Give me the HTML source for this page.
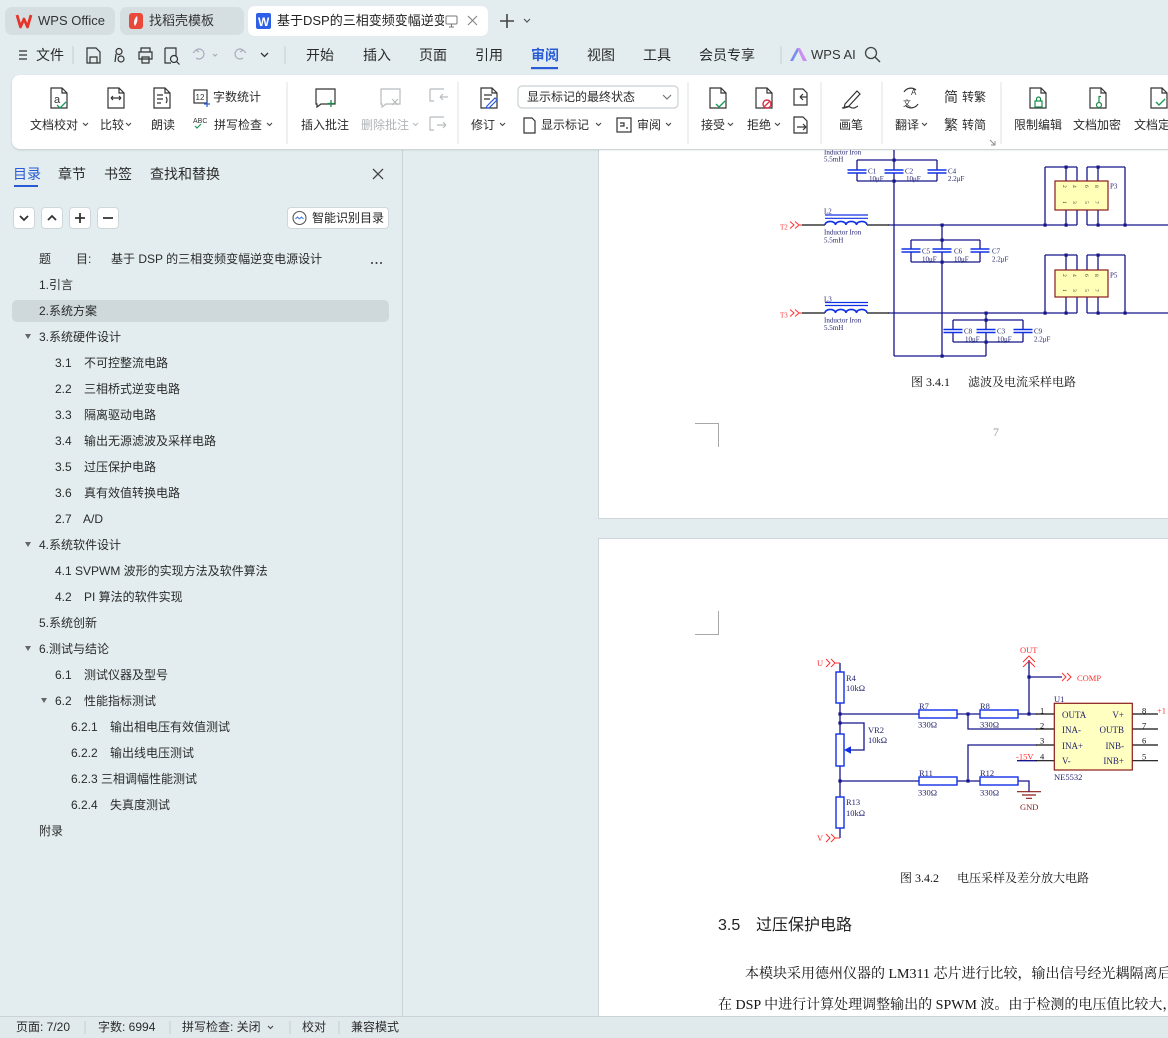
<!DOCTYPE html>
<html lang="zh"><head><meta charset="utf-8"><title>WPS</title>
<style>
*{margin:0;padding:0;box-sizing:border-box}
html,body{width:1168px;height:1038px;overflow:hidden}
body{position:relative;background:#e3edef;font-family:"Liberation Sans","Noto Sans CJK SC",sans-serif;color:#2b2b2b}
.a{position:absolute;white-space:nowrap}
.f12{font-size:12px;line-height:14px}
.f13{font-size:13px;line-height:16px}
.f14{font-size:14px;line-height:16px}
.g{color:#b0b4b7}
.s{font-family:"Liberation Serif","Noto Serif CJK SC",serif;color:#111}
.btn{position:absolute;top:207px;width:22px;height:22px;background:#fff;border:1px solid #cfd7da;border-radius:4px}
</style></head><body>

<!-- document area -->
<div class="a" style="left:598px;top:150px;width:580px;height:369px;background:#fff;border-left:1px solid #cfd5d8;border-bottom:1px solid #cfd5d8"></div>
<div class="a" style="left:598px;top:538px;width:580px;height:480px;background:#fff;border-left:1px solid #cfd5d8;border-top:1px solid #cfd5d8"></div>

<svg class="a" style="left:0;top:0" width="1168" height="1038" viewBox="0 0 1168 1038" font-family="Liberation Serif, serif">
 <path d="M695 423.5H718.5V447M718.5 611V634.5H695" stroke="#a8a8a8" stroke-width="1" fill="none"/>
 <!-- ===== circuit 1 ===== -->
 <g stroke="#16168c" stroke-width="1.3" fill="none">
  <path d="M894 150V170M894 173V356M857 160H937M857 181H937M857 160V170M857 173V181M937 160V170M937 173V181"/>
  <path d="M888 225H1077M1087 225H1168M942 225V249M942 252V356M911 240H980M911 262H980M911 240V249M911 252V262M980 240V249M980 252V262"/>
  <path d="M888 313H1077M1087 313H1168M986 313V329.5M986 332.5V356M953 320H1023M953 342H1023M953 320V329.5M953 332.5V342M1023 320V329.5M1023 332.5V342M894 356H986"/>
  <path d="M1045 167H1077M1087 167H1125M1045 167V225M1125 167V225M1066 167V181M1077 167V181M1087 167V181M1098 167V181M1066 210V225M1077 210V225M1087 210V225M1098 210V225"/>
  <path d="M1045 255H1077M1087 255H1125M1045 255V313M1125 255V313M1066 255V270M1077 255V270M1087 255V270M1098 255V270M1066 297V313M1077 297V313M1087 297V313M1098 297V313"/>
 </g>
 <path d="M802 225H825M867 225H889M802 313H825M867 313H889" stroke="#111" stroke-width="1.2"/>
 <g fill="#16168c">
  <rect x="892.5" y="158.5" width="3.2" height="3.2"/><rect x="892.5" y="179.5" width="3.2" height="3.2"/>
  <rect x="940.5" y="223.5" width="3.2" height="3.2"/><rect x="940.5" y="238.5" width="3.2" height="3.2"/>
  <rect x="940.5" y="260.5" width="3.2" height="3.2"/><rect x="940.5" y="354.5" width="3.2" height="3.2"/>
  <rect x="984.5" y="311.5" width="3.2" height="3.2"/><rect x="984.5" y="318.5" width="3.2" height="3.2"/>
  <rect x="984.5" y="340.5" width="3.2" height="3.2"/>
  <rect x="1064.5" y="165.5" width="3.2" height="3.2"/><rect x="1096.5" y="165.5" width="3.2" height="3.2"/>
  <rect x="1043.5" y="223.5" width="3.2" height="3.2"/><rect x="1064.5" y="223.5" width="3.2" height="3.2"/>
  <rect x="1096.5" y="223.5" width="3.2" height="3.2"/><rect x="1123.5" y="223.5" width="3.2" height="3.2"/>
  <rect x="1064.5" y="253.5" width="3.2" height="3.2"/><rect x="1096.5" y="253.5" width="3.2" height="3.2"/>
  <rect x="1043.5" y="311.5" width="3.2" height="3.2"/><rect x="1064.5" y="311.5" width="3.2" height="3.2"/>
  <rect x="1096.5" y="311.5" width="3.2" height="3.2"/><rect x="1123.5" y="311.5" width="3.2" height="3.2"/>
 </g>
 <g stroke="#1030e6" stroke-width="1.6" fill="none">
  <path d="M847.5 170H866.5M847.5 173H866.5M884.5 170H903.5M884.5 173H903.5M927.5 170H946.5M927.5 173H946.5"/>
  <path d="M901.5 249H920.5M901.5 252H920.5M932.5 249H951.5M932.5 252H951.5M970.5 249H989.5M970.5 252H989.5"/>
  <path d="M943.5 329.5H962.5M943.5 332.5H962.5M976.5 329.5H995.5M976.5 332.5H995.5M1013.5 329.5H1032.5M1013.5 332.5H1032.5"/>
  <path d="M825 225a5.25 3.6 0 0 1 10.5 0a5.25 3.6 0 0 1 10.5 0a5.25 3.6 0 0 1 10.5 0a5.25 3.6 0 0 1 10.5 0"/>
  <path d="M825 313a5.25 3.6 0 0 1 10.5 0a5.25 3.6 0 0 1 10.5 0a5.25 3.6 0 0 1 10.5 0a5.25 3.6 0 0 1 10.5 0"/>
  <path d="M825 215H868M825 218.3H868M825 302.5H868M825 305.5H868" stroke-width="1.2"/>
 </g>
 <g stroke="#ff3030" stroke-width="1" fill="none">
  <path d="M790 221.5L794 225L790 228.5M795 221.5L799 225L795 228.5M799 225H802"/>
  <path d="M790 309.5L794 313L790 316.5M795 309.5L799 313L795 316.5M799 313H802"/>
 </g>
 <rect x="1055" y="181" width="53" height="29" fill="#ffffb8" stroke="#8b1a1a" stroke-width="1.2"/>
 <rect x="1055" y="270" width="53" height="27" fill="#ffffb8" stroke="#8b1a1a" stroke-width="1.2"/>
 <g font-size="5.5" fill="#333">
  <text transform="rotate(90 1063 185)" x="1063" y="185">2</text><text transform="rotate(90 1073 185)" x="1073" y="185">4</text>
  <text transform="rotate(90 1085 185)" x="1085" y="185">6</text><text transform="rotate(90 1095 185)" x="1095" y="185">8</text>
  <text transform="rotate(90 1063 201)" x="1063" y="201">1</text><text transform="rotate(90 1073 201)" x="1073" y="201">3</text>
  <text transform="rotate(90 1085 201)" x="1085" y="201">5</text><text transform="rotate(90 1095 201)" x="1095" y="201">7</text>
  <text transform="rotate(90 1063 274)" x="1063" y="274">2</text><text transform="rotate(90 1073 274)" x="1073" y="274">4</text>
  <text transform="rotate(90 1085 274)" x="1085" y="274">6</text><text transform="rotate(90 1095 274)" x="1095" y="274">8</text>
  <text transform="rotate(90 1063 289)" x="1063" y="289">1</text><text transform="rotate(90 1073 289)" x="1073" y="289">3</text>
  <text transform="rotate(90 1085 289)" x="1085" y="289">5</text><text transform="rotate(90 1095 289)" x="1095" y="289">7</text>
 </g>
 <g font-size="7" fill="#23236e">
  <text x="824" y="154.5">Inductor Iron</text><text x="824" y="161.5">5.5mH</text>
  <text x="824" y="213.5">L2</text><text x="824" y="234.5">Inductor Iron</text><text x="824" y="242.5">5.5mH</text>
  <text x="824" y="301.5">L3</text><text x="824" y="322.5">Inductor Iron</text><text x="824" y="330">5.5mH</text>
  <text x="868" y="173.5">C1</text><text x="869" y="181">10μF</text><text x="905" y="173.5">C2</text><text x="906" y="181">10μF</text>
  <text x="948" y="173.5">C4</text><text x="948" y="181">2.2μF</text>
  <text x="922" y="253.5">C5</text><text x="922" y="261.5">10μF</text><text x="954" y="253.5">C6</text><text x="954" y="261.5">10μF</text>
  <text x="992" y="253.5">C7</text><text x="992" y="261.5">2.2μF</text>
  <text x="964" y="333.5">C8</text><text x="965" y="341.5">10μF</text><text x="997" y="333.5">C3</text><text x="997" y="341.5">10μF</text>
  <text x="1034" y="333.5">C9</text><text x="1034" y="341.5">2.2μF</text>
  <text x="1110" y="188.5">P3</text><text x="1110" y="277.5">P5</text>
 </g>
 <g font-size="7" fill="#ff3030"><text x="780" y="229.5">T2</text><text x="780" y="317.5">T3</text></g>

 <!-- ===== circuit 2 ===== -->
 <g stroke="#16168c" stroke-width="1.3" fill="none">
  <path d="M840 663V672M840 703V734M840 766V797M840 828V838"/>
  <path d="M840 714H919M957 714H980M1018 714H1037M968 714V729H1037M840 723H864V750H851"/>
  <path d="M840 781H919M957 781H980M1018 781H1029V791.7M968 781V745H1037"/>
  <path d="M1029 660V714M1029 677H1062M1017 760.7H1037"/>
 </g>
 <path d="M1036 714H1054M1036 729H1054M1036 745H1054M1036 760.7H1054M1132 714H1158M1132 729H1158M1132 745H1158M1132 760.7H1158" stroke="#111" stroke-width="1.2"/>
 <polygon points="844,750 851,746.3 851,753.7" fill="#1030e6"/>
 <g stroke="#1030e6" stroke-width="1.4" fill="#fff">
  <rect x="836" y="672" width="8" height="31"/><rect x="836" y="734" width="8" height="32"/><rect x="836" y="797" width="8" height="31"/>
  <rect x="919" y="710" width="38" height="8"/><rect x="980" y="710" width="38" height="8"/>
  <rect x="919" y="777" width="38" height="8"/><rect x="980" y="777" width="38" height="8"/>
 </g>
 <g fill="#16168c">
  <rect x="838.4" y="712.4" width="3.2" height="3.2"/><rect x="838.4" y="721.4" width="3.2" height="3.2"/>
  <rect x="838.4" y="779.4" width="3.2" height="3.2"/><rect x="966.4" y="712.4" width="3.2" height="3.2"/>
  <rect x="966.4" y="779.4" width="3.2" height="3.2"/><rect x="1027.4" y="712.4" width="3.2" height="3.2"/>
  <rect x="1027.4" y="675.4" width="3.2" height="3.2"/>
 </g>
 <g stroke="#ff3030" stroke-width="1" fill="none">
  <path d="M826 659L830 663L826 667M831 659L835 663L831 667M835 663H840"/>
  <path d="M826 834L830 838L826 842M831 834L835 838L831 842M835 838H840"/>
  <path d="M1062 673L1066 677L1062 681M1067 673L1071 677L1067 681"/>
  <path d="M1023 662L1029 656L1035 662M1023 667L1029 661L1035 667"/>
 </g>
 <path d="M1017 791.7H1041M1022 795H1036M1026 798.3H1032" stroke="#8b1a1a" stroke-width="1.2"/>
 <rect x="1054.3" y="703.3" width="78" height="66.7" fill="#ffffc2" stroke="#8b1a1a" stroke-width="1.2"/>
 <g font-size="8.5" fill="#23236e">
  <text x="846" y="681">R4</text><text x="846" y="691">10kΩ</text>
  <text x="868" y="733">VR2</text><text x="868" y="743">10kΩ</text>
  <text x="846" y="805">R13</text><text x="846" y="816">10kΩ</text>
  <text x="919" y="709">R7</text><text x="918" y="727.5">330Ω</text>
  <text x="980" y="709">R8</text><text x="980" y="727.5">330Ω</text>
  <text x="919" y="776">R11</text><text x="918" y="795.5">330Ω</text>
  <text x="980" y="776">R12</text><text x="980" y="795.5">330Ω</text>
  <text x="1054" y="702">U1</text><text x="1054" y="780">NE5532</text>
 </g>
 <g font-size="8.5" fill="#111">
  <text x="1040" y="713.5">1</text><text x="1040" y="728.5">2</text><text x="1040" y="743.5">3</text><text x="1040" y="759.5">4</text>
  <text x="1142" y="713.5">8</text><text x="1142" y="728.5">7</text><text x="1142" y="743.5">6</text><text x="1142" y="759.5">5</text>
 </g>
 <g font-size="9" fill="#23236e">
  <text x="1062" y="718">OUTA</text><text x="1062" y="733">INA-</text><text x="1062" y="749">INA+</text><text x="1062" y="764">V-</text>
  <text x="1124" y="718" text-anchor="end">V+</text><text x="1124" y="733" text-anchor="end">OUTB</text>
  <text x="1124" y="749" text-anchor="end">INB-</text><text x="1124" y="764" text-anchor="end">INB+</text>
 </g>
 <g font-size="8.5" fill="#ff3030">
  <text x="817" y="666">U</text><text x="817" y="841">V</text><text x="1020" y="653">OUT</text>
  <text x="1077" y="681">COMP</text><text x="1157" y="713.5">+1</text><text x="1016" y="759.5">-15V</text>
 </g>
 <text x="1020" y="810" font-size="8.5" fill="#8b1a1a">GND</text>
</svg>

<!-- document text -->
<div class="a s f12" style="left:911px;top:375px">图 3.4.1</div>
<div class="a s f12" style="left:968px;top:375px">滤波及电流采样电路</div>
<div class="a s f12" style="left:993px;top:425px;color:#9a9a9a">7</div>
<div class="a s f12" style="left:900px;top:871px">图 3.4.2</div>
<div class="a s f12" style="left:957px;top:871px">电压采样及差分放大电路</div>
<div class="a" style="left:718px;top:917px;font-size:16px;line-height:18px;color:#222">3.5</div>
<div class="a" style="left:756px;top:917px;font-size:16px;line-height:18px;color:#222">过压保护电路</div>
<div class="a s" style="left:745px;top:966px;font-size:14px;line-height:18px">本模块采用德州仪器的 LM311 芯片进行比较，输出信号经光耦隔离后送入</div>
<div class="a s" style="left:718px;top:997px;font-size:14px;line-height:18px">在 DSP 中进行计算处理调整输出的 SPWM 波。由于检测的电压值比较大，</div>

<!-- sidebar -->
<div class="a" style="left:402px;top:150px;width:1px;height:866px;background:#cbd3d6"></div>
<div class="a f14" style="left:13px;top:166px;color:#2a5bd7">目录</div>
<div class="a" style="left:14px;top:185px;width:24px;height:2px;background:#2a5bd7"></div>
<div class="a f14" style="left:58px;top:166px">章节</div>
<div class="a f14" style="left:104px;top:166px">书签</div>
<div class="a f14" style="left:150px;top:166px">查找和替换</div>
<div class="btn" style="left:13px"></div><div class="btn" style="left:41px"></div><div class="btn" style="left:69px"></div><div class="btn" style="left:97px"></div>
<div class="a" style="left:287px;top:207px;width:102px;height:22px;background:#fff;border:1px solid #cfd7da;border-radius:4px"></div>
<div class="a f12" style="left:312px;top:211px;color:#222">智能识别目录</div>
<div class="a" style="left:12px;top:300px;width:377px;height:22px;background:#cfd9dc;border-radius:5px"></div>
<svg class="a" style="left:0;top:150px" width="402" height="720" viewBox="0 150 402 720">
 <path d="M373 169L383 179M383 169L373 179" stroke="#444" stroke-width="1.3"/>
 <g stroke="#333" stroke-width="1.8" fill="none">
  <path d="M20 216L24 220L28 216M48 220L52 216L56 220M80 213V223M75 218H85M103 218H113"/>
 </g>
 <circle cx="299.5" cy="218" r="6.5" stroke="#555" stroke-width="1.1" fill="none"/>
 <path d="M295.5 219l2-2 2 2M299.5 219l2-2 2 2" stroke="#3b6fe0" stroke-width="0.9" fill="none"/>
 <g fill="#666">
  <polygon points="25,334 31,334 28,339"/><polygon points="25,542 31,542 28,547"/>
  <polygon points="25,646 31,646 28,651"/><polygon points="41,698 47,698 44,703"/>
 </g>
 <g fill="#333"><circle cx="372" cy="263" r="1"/><circle cx="376.5" cy="263" r="1"/><circle cx="381" cy="263" r="1"/></g>
</svg>
<div class="a f12" style="left:39px;top:252px">题</div>
<div class="a f12" style="left:76px;top:252px">目:</div>
<div class="a f12" style="left:111px;top:252px">基于 DSP 的三相变频变幅逆变电源设计</div>
<div class="a f12" style="left:39px;top:278px">1.引言</div>
<div class="a f12" style="left:39px;top:304px">2.系统方案</div>
<div class="a f12" style="left:39px;top:330px">3.系统硬件设计</div>
<div class="a f12" style="left:55px;top:356px">3.1</div><div class="a f12" style="left:84px;top:356px">不可控整流电路</div>
<div class="a f12" style="left:55px;top:382px">2.2</div><div class="a f12" style="left:84px;top:382px">三相桥式逆变电路</div>
<div class="a f12" style="left:55px;top:408px">3.3</div><div class="a f12" style="left:84px;top:408px">隔离驱动电路</div>
<div class="a f12" style="left:55px;top:434px">3.4</div><div class="a f12" style="left:84px;top:434px">输出无源滤波及采样电路</div>
<div class="a f12" style="left:55px;top:460px">3.5</div><div class="a f12" style="left:84px;top:460px">过压保护电路</div>
<div class="a f12" style="left:55px;top:486px">3.6</div><div class="a f12" style="left:84px;top:486px">真有效值转换电路</div>
<div class="a f12" style="left:55px;top:512px">2.7</div><div class="a f12" style="left:83px;top:512px">A/D</div>
<div class="a f12" style="left:39px;top:538px">4.系统软件设计</div>
<div class="a f12" style="left:55px;top:564px">4.1 SVPWM 波形的实现方法及软件算法</div>
<div class="a f12" style="left:55px;top:590px">4.2</div><div class="a f12" style="left:84px;top:590px">PI 算法的软件实现</div>
<div class="a f12" style="left:39px;top:616px">5.系统创新</div>
<div class="a f12" style="left:39px;top:642px">6.测试与结论</div>
<div class="a f12" style="left:55px;top:668px">6.1</div><div class="a f12" style="left:84px;top:668px">测试仪器及型号</div>
<div class="a f12" style="left:55px;top:694px">6.2</div><div class="a f12" style="left:84px;top:694px">性能指标测试</div>
<div class="a f12" style="left:71px;top:720px">6.2.1</div><div class="a f12" style="left:110px;top:720px">输出相电压有效值测试</div>
<div class="a f12" style="left:71px;top:746px">6.2.2</div><div class="a f12" style="left:110px;top:746px">输出线电压测试</div>
<div class="a f12" style="left:71px;top:772px">6.2.3 三相调幅性能测试</div>
<div class="a f12" style="left:71px;top:798px">6.2.4</div><div class="a f12" style="left:110px;top:798px">失真度测试</div>
<div class="a f12" style="left:39px;top:824px">附录</div>

<!-- header -->
<div class="a" style="left:0;top:0;width:1168px;height:150px;background:#e3edef"></div>
<div class="a" style="left:5px;top:7px;width:110px;height:28px;background:#d5dfe2;border-radius:7px"></div>
<div class="a" style="left:120px;top:7px;width:124px;height:28px;background:#d5dfe2;border-radius:7px"></div>
<div class="a" style="left:248px;top:6px;width:240px;height:30px;background:#fff;border-radius:7px"></div>
<div class="a f13" style="left:38px;top:13px;color:#333">WPS Office</div>
<div class="a f13" style="left:149px;top:13px;color:#333">找稻壳模板</div>
<div class="a f13" style="left:277px;top:13px;width:167px;overflow:hidden;color:#222">基于DSP的三相变频变幅逆变电源设计</div>
<div class="a" style="left:12px;top:75px;width:1170px;height:74px;background:#fff;border-radius:8px;box-shadow:0 1px 2px rgba(0,0,0,.15)"></div>

<svg class="a" style="left:0;top:0" width="1168" height="150" viewBox="0 0 1168 150">
 <path d="M17 15l3.5 12 3.5-8 3.5 8 3.5-12" stroke="#e5352b" stroke-width="2.8" fill="none" stroke-linejoin="round"/>
 <rect x="129" y="13" width="14" height="16" rx="3" fill="#e9483a"/>
 <path d="M137 16c-3 3-4 7-2 10c2-3 3-6 2-10z" fill="#fff"/>
 <rect x="256" y="13" width="15" height="16" rx="2" fill="#2f5fe6"/>
 <text x="258" y="26" font-size="12" font-weight="bold" fill="#fff" font-family="Liberation Sans">W</text>
 <rect x="446" y="16" width="11" height="8" rx="1" stroke="#777" fill="none"/><path d="M449 27h5M451.5 24v3" stroke="#777"/>
 <path d="M468 16l9 9M477 16l-9 9" stroke="#888" stroke-width="1.2"/>
 <path d="M507 14v14M500 21h14" stroke="#444" stroke-width="1.6"/>
 <path d="M524 19l3 3 3-3" stroke="#555" stroke-width="1.2" fill="none"/>
 <path d="M19 51h8M19 55h8M19 59h8" stroke="#333" stroke-width="1.2"/>
 <path d="M73 46v18M285 46v18M781 46v18" stroke="#c4cdd0"/>
 <g stroke="#333" stroke-width="1.2" fill="none">
  <path d="M87 48h9l4 4v11h-13z M90 57h7v6h-7z"/>
  <circle cx="119" cy="51.5" r="3"/><circle cx="121" cy="59" r="3"/><path d="M116 54l-1 8"/>
  <path d="M141 52v-4h9v4M139 52h13v7h-13zM142 57h7v6h-7z"/>
  <path d="M165 48h11v8M165 48v15h6"/><circle cx="174" cy="59" r="3.5"/><path d="M176.5 61.5l3 3"/>
 </g>
 <g stroke="#aab" stroke-width="1.2" fill="none">
  <path d="M196 50a5 5 0 1 1 0 8M196 50l-3 3M196 50l3 2"/><path d="M213 54l2 2 2-2"/>
  <path d="M243 50a5 5 0 1 0 0 8M243 50l3 3M243 50l-3 2"/>
 </g>
 <path d="M261 53l3.5 3.5 3.5-3.5" stroke="#333" stroke-width="1.3" fill="none"/>
 <rect x="531" y="67" width="27" height="2.2" fill="#2a5bd7"/>
 <polygon points="790,61 797,48 800,48 793,61" fill="#7b8cf0"/><polygon points="797,48 800,48 807,61 803,61" fill="#c98ff0"/>
 <circle cx="871" cy="53" r="5.5" stroke="#444" stroke-width="1.3" fill="none"/><path d="M875 57l5 5" stroke="#444" stroke-width="1.4"/>
 <path d="M287 82v62M458 82v62M688 82v62M821 82v62M882 82v62M1001 82v62" stroke="#dde2e4"/>
 <g stroke="#333" stroke-width="1.2" fill="none">
  <path d="M51 88h11l5 5v15h-16z M62 88v5h5"/>
  <path d="M108 88h11l5 5v15h-16z M119 88v5h5 M111 98h10M111 98l2-2M111 98l2 2M121 98l-2-2M121 98l-2 2"/>
  <path d="M154 88h11l5 5v15h-16z M165 88v5h5 M157 95h6M157 99h6M157 103h4 M166 97a3 4 0 0 1 0 6"/>
  <rect x="194" y="90" width="13" height="13"/>
  <path d="M316 89h19v15h-14l-4 3v-3h-1z"/>
  <path d="M481 88h11l5 5v15h-16z M492 88v5h5 M484 95h8M484 99h6"/>
  <rect x="518" y="86" width="160" height="22" rx="4" stroke="#c9d0d3"/>
  <path d="M663 95l4 4 4-4" stroke="#777"/>
  <path d="M524 118h8l3 3v12h-11z"/>
  <rect x="617" y="118" width="14" height="14"/><path d="M620 123h4v3h-4M626 128h2"/>
  <path d="M710 88h11l5 5v15h-16z M721 88v5h5"/>
  <path d="M756 88h11l5 5v15h-16z M767 88v5h5"/>
  <path d="M794 89h9l4 4v12h-13z M800 97h7M800 97l3-3M800 97l3 3"/>
  <path d="M794 117h9l4 4v12h-13z M797 127h9M806 127l-3-3M806 127l-3 3"/>
  <path d="M845 104l12-13 3 3-12 13-4 1z M842 108c3 0 5-3 8-1s5 1 8-1"/>
  <path d="M904 92a8 8 0 0 1 12-2M918 104a8 8 0 0 1-12 2"/>
  <path d="M1030 88h11l5 5v15h-16z M1041 88v5h5"/>
  <path d="M1090 88h11l5 5v15h-16z M1101 88v5h5"/>
  <path d="M1151 88h11l5 5v15h-16z M1162 88v5h5"/>
 </g>
 <text x="54" y="103" font-size="11" fill="#333" font-family="Liberation Sans">a</text>
 <path d="M57 105l3 3 6-6" stroke="#1a9a5a" stroke-width="1.3" fill="none"/>
 <text x="195.5" y="100" font-size="8" fill="#333" font-family="Liberation Sans">12</text>
 <path d="M207 101v6M204 104h6" stroke="#2a5bd7" stroke-width="1.2"/>
 <text x="193" y="123" font-size="7" fill="#333" font-family="Liberation Sans">ABC</text>
 <path d="M195 126l2 2 4-4" stroke="#1a9a5a" stroke-width="1.2" fill="none"/>
 <path d="M331 100v7M327.5 103.5h7" stroke="#1a8a4a" stroke-width="1.3"/>
 <g stroke="#b8bcbf" stroke-width="1.2" fill="none">
  <path d="M381 89h19v15h-14l-4 3v-3h-1z M392 99l6 6M398 99l-6 6"/>
  <path d="M430 89h14M430 89v12h4 M448 97h-8M440 97l3-3M440 97l3 3"/>
  <path d="M430 117h14M430 117v13h4 M437 125h9M446 125l-3-3M446 125l-3 3"/>
 </g>
 <path d="M487 106l8-8 2 2-8 8h-3z" stroke="#2a5bd7" stroke-width="1.2" fill="none"/>
 <path d="M716 104l3 3 6-6" stroke="#1a9a5a" stroke-width="1.4" fill="none"/>
 <circle cx="767" cy="104" r="4" stroke="#d9304a" stroke-width="1.4" fill="none"/><path d="M764.5 106.5l5-5" stroke="#d9304a" stroke-width="1.3"/>
 <text x="911" y="95" font-size="8" fill="#333" font-family="Liberation Sans">A</text>
 <text x="903" y="106" font-size="8" fill="#333" font-family="Noto Sans CJK SC">文</text>
 <rect x="1035" y="101" width="7" height="6" stroke="#1a8a4a" stroke-width="1.2" fill="none"/><path d="M1036.5 101v-2a2 2 0 0 1 4 0v2" stroke="#1a8a4a" stroke-width="1.2" fill="none"/>
 <circle cx="1099" cy="105" r="2.5" stroke="#1a8a4a" stroke-width="1.2" fill="none"/><path d="M1099 102.5v-6h2" stroke="#1a8a4a" stroke-width="1.2" fill="none"/>
 <path d="M1156 102l3 3 6-6" stroke="#1a9a5a" stroke-width="1.4" fill="none"/>
 <path d="M990 140l5 5M995 141v4h-4" stroke="#888" stroke-width="0.9" fill="none"/>
 <g stroke="#444" stroke-width="1.1" fill="none">
  <path d="M83 123l2.5 2.5 2.5-2.5M126 123l2.5 2.5 2.5-2.5M267 123l2.5 2.5 2.5-2.5M500 123l2.5 2.5 2.5-2.5M596 123l2.5 2.5 2.5-2.5M666 123l2.5 2.5 2.5-2.5M728 123l2.5 2.5 2.5-2.5M775 123l2.5 2.5 2.5-2.5M922 123l2.5 2.5 2.5-2.5"/>
 </g>
 <path d="M413 123l2.5 2.5 2.5-2.5" stroke="#bbb" stroke-width="1.1" fill="none"/>
</svg>
<div class="a" style="left:944px;top:89px;font-size:14px;line-height:16px;color:#333">简</div>
<div class="a" style="left:944px;top:117px;font-size:14px;line-height:16px;color:#333">繁</div>
<div class="a f14" style="left:36px;top:47px">文件</div>
<div class="a f14" style="left:306px;top:47px">开始</div>
<div class="a f14" style="left:363px;top:47px">插入</div>
<div class="a f14" style="left:419px;top:47px">页面</div>
<div class="a f14" style="left:475px;top:47px">引用</div>
<div class="a f14" style="left:531px;top:47px;color:#2a5bd7;font-weight:bold">审阅</div>
<div class="a f14" style="left:587px;top:47px">视图</div>
<div class="a f14" style="left:643px;top:47px">工具</div>
<div class="a f14" style="left:699px;top:47px">会员专享</div>
<div class="a f13" style="left:811px;top:47px;color:#333">WPS AI</div>

<div class="a f12" style="left:30px;top:118px">文档校对</div>
<div class="a f12" style="left:100px;top:118px">比较</div>
<div class="a f12" style="left:151px;top:118px">朗读</div>
<div class="a f12" style="left:213px;top:90px">字数统计</div>
<div class="a f12" style="left:214px;top:118px">拼写检查</div>
<div class="a f12" style="left:301px;top:118px">插入批注</div>
<div class="a f12 g" style="left:361px;top:118px">删除批注</div>
<div class="a f12" style="left:471px;top:118px">修订</div>
<div class="a f12" style="left:527px;top:90px">显示标记的最终状态</div>
<div class="a f12" style="left:541px;top:118px">显示标记</div>
<div class="a f12" style="left:637px;top:118px">审阅</div>
<div class="a f12" style="left:701px;top:118px">接受</div>
<div class="a f12" style="left:747px;top:118px">拒绝</div>
<div class="a f12" style="left:839px;top:118px">画笔</div>
<div class="a f12" style="left:895px;top:118px">翻译</div>
<div class="a f12" style="left:962px;top:90px">转繁</div>
<div class="a f12" style="left:962px;top:118px">转简</div>
<div class="a f12" style="left:1014px;top:118px">限制编辑</div>
<div class="a f12" style="left:1073px;top:118px">文档加密</div>
<div class="a f12" style="left:1134px;top:118px">文档定稿</div>

<!-- status bar -->
<div class="a" style="left:0;top:1016px;width:1168px;height:22px;background:#e0e9ec;border-top:1px solid #cbd3d6"></div>
<div class="a f12" style="left:16px;top:1020px">页面: 7/20</div>
<div class="a f12" style="left:98px;top:1020px">字数: 6994</div>
<div class="a f12" style="left:182px;top:1020px">拼写检查: 关闭</div>
<div class="a f12" style="left:302px;top:1020px">校对</div>
<div class="a f12" style="left:351px;top:1020px">兼容模式</div>
<svg class="a" style="left:0;top:1016px" width="420" height="22">
 <path d="M85 5v13M170 5v13M290 5v13M339 5v13" stroke="#c5cdd0"/>
 <path d="M268 10l2.5 2.5 2.5-2.5" stroke="#444" stroke-width="1.1" fill="none"/>
</svg>
</body></html>
